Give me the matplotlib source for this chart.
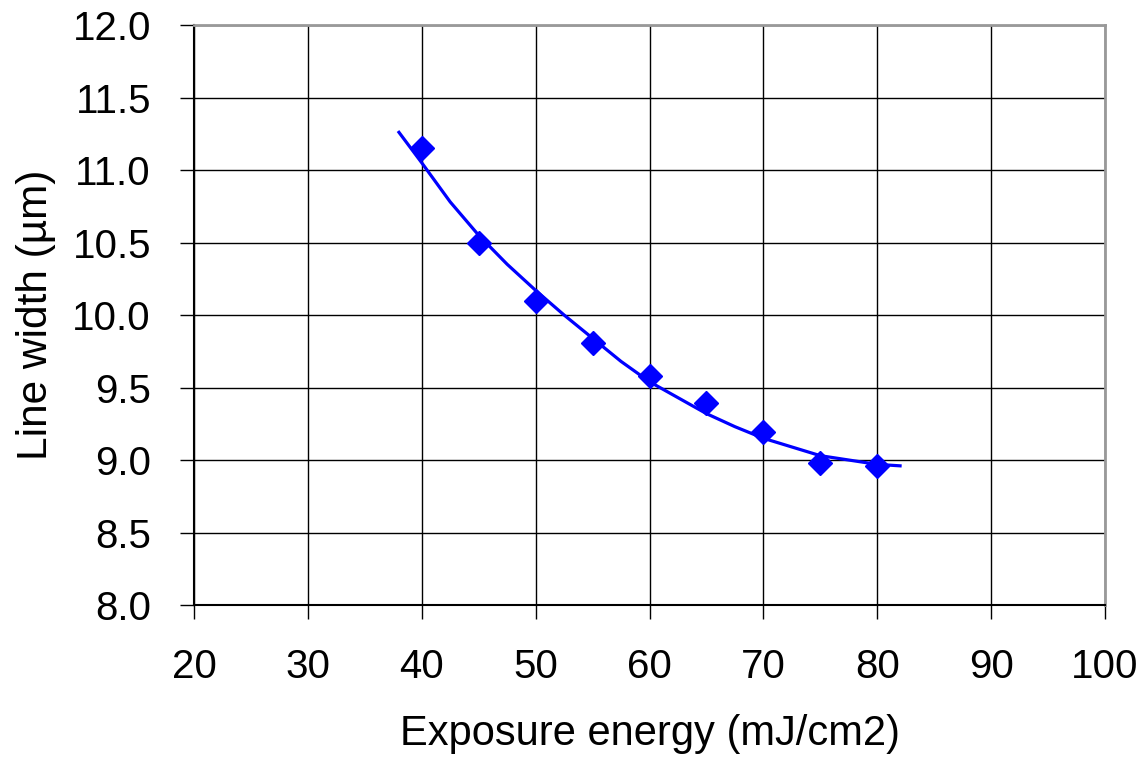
import numpy as np
import matplotlib
matplotlib.use("Agg")
import matplotlib.pyplot as plt

plt.rcParams['font.family'] = ['Liberation Sans', 'DejaVu Sans']

# measured points
energy = [40, 45, 50, 55, 60, 65, 70, 75, 80]
width = [11.15, 10.50, 10.10, 9.81, 9.58, 9.39, 9.19, 8.98, 8.96]

# trend line
trend_x = [38, 40, 42.5, 45, 47.5, 50, 52.5, 55, 57.5, 60, 62.5, 65, 67.5, 70, 72.5, 75, 77.5, 80, 82]
trend_y = [11.26, 11.05, 10.78, 10.55, 10.35, 10.17, 10.0, 9.84, 9.68, 9.54, 9.43, 9.32, 9.23,
           9.15, 9.09, 9.03, 9.0, 8.97, 8.96]

fig = plt.figure(figsize=(11.43, 7.58), dpi=100)
ax = fig.add_axes([0.1697, 0.2018, 0.7971, 0.7652])

ax.plot(trend_x, trend_y, color='#0000ff', lw=2.3, zorder=3)
ax.plot(energy, width, 'D', color='#0000ff', markersize=12, zorder=4)

ax.set_xlim(20, 100)
ax.set_ylim(8, 12)
ax.set_xticks(np.arange(20, 101, 10))
ax.set_yticks(np.arange(8, 12.01, 0.5))
ax.set_yticklabels(['%.1f' % v for v in np.arange(8, 12.01, 0.5)])
ax.grid(True, color='black', lw=1)
ax.set_axisbelow(True)

for s in ['top', 'right']:
    ax.spines[s].set_color('#999999')
    ax.spines[s].set_linewidth(2)
for s in ['left', 'bottom']:
    ax.spines[s].set_color('black')
    ax.spines[s].set_linewidth(1.5)

ax.tick_params(direction='out', length=10, width=1, labelsize=29, pad=21)
ax.set_xlabel('Exposure energy (mJ/cm2)', fontsize=30, labelpad=20)
ax.set_ylabel('Line width (µm)', fontsize=30.5, labelpad=12)

fig.savefig('out.png', dpi=100)
